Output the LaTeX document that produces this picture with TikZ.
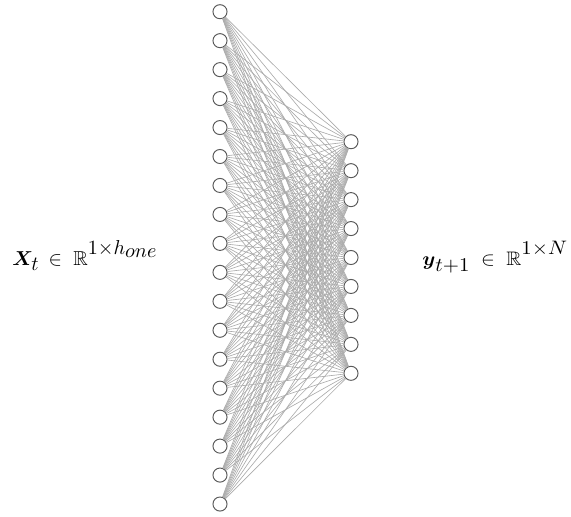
\documentclass[tikz,border=0pt]{standalone}
\usepackage{amsmath,amssymb,bm,graphicx}
\DeclareMathSizes{10}{10}{10}{10}
\tikzset{
  neuron/.style={circle, draw=black!65, line width=0.6pt, fill=white, minimum size=8.8pt, inner sep=0pt},
  link/.style={draw=black!33, line width=0.4pt},
  lbl/.style={anchor=base west, inner sep=0pt, font=\fontsize{10}{12}\selectfont}
}
\begin{document}
\begin{tikzpicture}[x=0.625pt, y=-0.625pt]
\useasboundingbox (0,0) rectangle (571,516);
\foreach \i in {0,...,17} {
  \node[neuron] (L\i) at (220, {11.7 + 28.96*\i}) {};
}
\foreach \j in {0,...,8} {
  \node[neuron] (R\j) at (351, {141.7 + 28.95*\j}) {};
}
\foreach \i in {0,...,17} {
  \foreach \j in {0,...,8} {
    \draw[link] (L\i) -- (R\j);
  }
}
\node[lbl] (xlab) at (12, 265) {\scalebox{1.26}{$\bm{X}_{t}\mathrel{\,\in\;}\mathbb{R}\raisebox{5.2pt}{$1{\times}h_{one}$}$}};
\node[lbl] (ylab) at (422, 265) {\scalebox{1.3}[1.22]{$\bm{y}\raisebox{-3.5pt}{$t{+}1$}\mathrel{\;\in\;}\mathbb{R}\raisebox{5.2pt}{$1{\times}N$}$}};
\end{tikzpicture}
\end{document}
